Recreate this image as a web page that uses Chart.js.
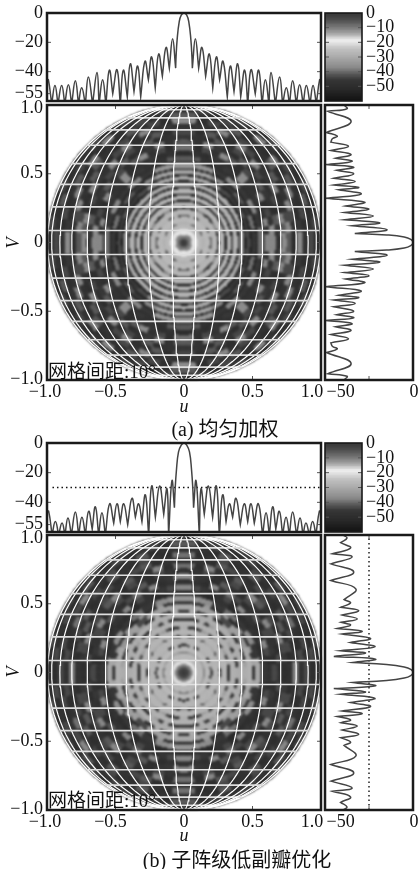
<!DOCTYPE html>
<html>
<head>
<meta charset="utf-8">
<script src="https://cdn.jsdelivr.net/npm/chart.js@4"></script>
<style>
  html, body { margin: 0; background: #fff; }
  #page { position: relative; width: 418px; height: 869px; overflow: hidden; filter: blur(0.35px); }
  #page canvas { position: absolute; left: 0; top: 0; }
  .txt { position: absolute; white-space: nowrap; color: #111; font-family: "Liberation Serif", "Noto Sans CJK SC", serif; transform: translate(-50%, -50%); }
</style>
</head>
<body>
<div id="page"></div>
<script>
// half cuts (right side of u, upper side of v), the picture is mirror symmetric
const topUA = [0,.02,.035,.05,.058,.061,.083,.107,.131,.158,.185,.21,.236,.26,.285,.316,.338,.365,.392,.414,.443,.465,.489,.52,.545,.57,.594,.62,.635,.667,.698,.72,.747,.77,.793,.82,.844,.87,.893,.92,.942,.966,.99,1];
const topDbA = [0,-1.5,-6,-18,-30,-37.6,-17.5,-37.6,-23.5,-43,-28,-51,-30,-45.5,-33,-57,-36.2,-53.5,-34.6,-57,-39,-62,-38.7,-55,-39,-62,-45.5,-62,-40.5,-62,-43.7,-62,-51,-62,-46.2,-62,-49,-62,-49.5,-62,-49.5,-62,-45.5,-46];
const topUB = [0,.02,.04,.055,.065,.07,.088,.112,.124,.148,.178,.209,.236,.258,.282,.307,.331,.355,.38,.411,.44,.465,.489,.513,.543,.574,.599,.623,.647,.67,.696,.72,.745,.769,.793,.822,.847,.869,.89,.915,.939,.963,.988,1];
const topDbB = [0,-1.5,-6,-18,-32,-43.6,-25.5,-62,-31,-48,-29,-50,-29,-62,-35,-53,-41,-50,-37.3,-55,-41,-53,-41,-54,-41,-62,-47,-62,-43,-58,-46,-62,-50,-62,-46.6,-62,-50.5,-62,-54,-62,-53,-62,-46,-47];
const sideVA = [0,.022,.04,.055,.066,.093,.122,.143,.165,.192,.219,.242,.265,.293,.321,.352,.384,.401,.418,.443,.467,.499,.525,.548,.567,.59,.613,.64,.669,.70,.73,.754,.774,.80,.88,.954,.973,1];
const sideDbA = [0,-1.5,-6,-18,-39.7,-17.7,-41.5,-22.7,-46.7,-27,-46.7,-30,-46,-33,-59.6,-35.4,-50.6,-37,-54,-39.4,-54,-40.5,-52,-40.5,-59.6,-41.6,-52.8,-42.3,-56,-44,-56,-55,-51.7,-59,-42.2,-58,-45,-47];
const sideVB = [0,.022,.04,.058,.073,.097,.117,.141,.158,.187,.219,.248,.28,.30,.32,.345,.365,.389,.418,.45,.474,.506,.53,.608,.669,.73,.79,.84,.864,.905,.944,.978,1];
const sideDbB = [0,-1.5,-6,-18,-41,-25.6,-54,-32.4,-49.4,-26,-42.6,-29,-48.3,-34.7,-51.7,-42.6,-49,-38,-48.3,-37,-49.4,-42.6,-47,-39,-56,-40.4,-56,-41.5,-55,-42.6,-49.4,-45,-48];
const sideLobeLimit = -30;

// colormap stops
const cmapDb = [-60,-52,-46,-42,-38,-30,-25,-19,-15,-10,-4,0];
const cmapGrey = [18,42,54,88,135,172,192,240,172,118,70,52];

// grid of the sine-space plot, degrees
const gridDeg = [5,15,25,35,45,55,65,75,85];

// beam pattern in polar cells: outer radius of each ring, sectors per quadrant from +u to +v
const ringsA = [.02,.035,.05,.065,.08,.10,.135,.15,.19,.205,.245,.26,.30,.315,.345,.36,.395,.41,.44,.455,.485,.5,.53,.545,.58,.595,.63,.67,.71,.75,.79,.83,.87,.91,.95,1.01];
const cellsA = [
  [-1,-1,-1,-1,-1,-1,-1,-1],
  [-5,-5,-5,-5,-5,-5,-5,-5],
  [-10,-10,-10,-10,-10,-10,-10,-10],
  [-26,-26,-38,-38,-38,-38,-26,-26],
  [-20,-20,-20,-20,-20,-20,-20,-20],
  [-18,-18,-18,-18,-18,-18,-18,-18],
  [-27,-27,-27,-27,-27,-27,-27,-27],
  [-29,-29,-42,-29,-29,-42,-29,-29],
  [-27,-27,-27,-27,-27,-27,-27,-27],
  [-42,-29,-44,-29,-29,-44,-29,-42],
  [-28,-28,-28,-28,-28,-28,-28,-28],
  [-48,-48,-38,-48,-48,-38,-48,-48],
  [-28,-28,-28,-28,-28,-28,-28,-28],
  [-54,-54,-54,-54,-54,-54,-54,-54],
  [-28,-28,-28,-28,-28,-28,-28,-28],
  [-56,-56,-56,-56,-56,-56,-56,-56],
  [-29,-29,-29,-29,-29,-29,-29,-29],
  [-56,-56,-56,-56,-56,-56,-56,-56],
  [-33,-33,-30,-30,-30,-30,-30,-30],
  [-56,-56,-56,-56,-56,-56,-56,-56],
  [-44,-46,-42,-46,-44,-36,-31,-31],
  [-54,-54,-52,-52,-54,-54,-54,-54],
  [-46,-40,-46,-42,-46,-38,-32,-32],
  [-54,-54,-54,-54,-54,-54,-54,-54],
  [-40,-46,-38,-46,-38,-46,-35,-35],
  [-46,-50,-50,-50,-50,-50,-52,-52],
  [-38,-48,-38,-48,-46,-46,-48,-48,-37,-48,-46,-48,-50,-48,-42,-42],
  [-38,-37,-48,-44,-50,-38,-48,-46,-37,-50,-48,-48,-46,-50,-48,-50],
  [-48,-46,-42,-50,-48,-46,-42,-48,-44,-50,-42,-37,-48,-44,-50,-40],
  [-37,-42,-38,-50,-44,-48,-50,-44,-48,-42,-50,-48,-46,-38,-48,-42],
  [-42,-38,-44,-48,-50,-37,-46,-48,-37,-50,-44,-48,-42,-50,-48,-46],
  [-50,-48,-44,-38,-48,-50,-42,-48,-50,-44,-38,-50,-48,-42,-50,-44],
  [-37,-46,-50,-48,-38,-48,-50,-42,-48,-50,-44,-48,-38,-50,-46,-48],
  [-48,-50,-44,-50,-48,-42,-48,-38,-50,-48,-50,-42,-48,-44,-50,-37],
  [-44,-48,-50,-42,-50,-48,-44,-50,-48,-38,-48,-50,-44,-50,-48,-42],
  [-50,-44,-48,-50,-44,-50,-48,-48,-44,-50,-48,-44,-50,-48,-44,-50],
];
const ringsB = [.02,.04,.06,.07,.09,.14,.155,.19,.21,.26,.275,.32,.34,.38,.4,.44,.46,.5,.52,.56,.6,.64,.68,.72,.76,.8,.84,.88,.92,.96,1.01];
const cellsB = [
  [-1,-1,-1,-1,-1,-1,-1,-1],
  [-4,-4,-4,-4,-4,-4,-4,-4],
  [-10,-10,-10,-10,-10,-10,-10,-10],
  [-26,-26,-26,-26,-26,-26,-26,-26],
  [-18,-18,-18,-18,-18,-18,-18,-18],
  [-27,-27,-27,-27,-27,-27,-27,-27],
  [-40,-33,-33,-33,-33,-33,-33,-40],
  [-27,-27,-27,-27,-27,-27,-27,-27],
  [-44,-29,-46,-29,-29,-46,-29,-46],
  [-28,-28,-28,-28,-28,-28,-28,-28],
  [-48,-32,-30,-30,-32,-46,-32,-30,-30,-32,-46,-30,-32,-48,-48,-34],
  [-28,-28,-28,-28,-28,-28,-28,-28],
  [-52,-50,-30,-46,-34,-32,-50,-30,-32,-50,-32,-34,-50,-52,-52,-30],
  [-29,-29,-29,-29,-29,-29,-29,-29],
  [-30,-50,-46,-30,-50,-34,-30,-52,-52,-30,-34,-48,-30,-52,-52,-48],
  [-30,-30,-30,-30,-30,-30,-30,-30],
  [-30,-33,-52,-46,-30,-50,-52,-34,-34,-52,-50,-30,-52,-50,-30,-46],
  [-29,-31,-35,-33,-44,-33,-33,-31],
  [-50,-32,-46,-34,-52,-50,-34,-52,-52,-34,-50,-52,-34,-52,-48,-52],
  [-31,-46,-37,-46,-40,-46,-37,-35],
  [-46,-50,-48,-50,-52,-48,-52,-50],
  [-48,-50,-44,-38,-48,-50,-48,-46,-38,-50,-44,-48,-50,-46,-44,-38],
  [-44,-50,-46,-48,-44,-50,-42,-48,-50,-44,-40,-48,-38,-50,-48,-48],
  [-48,-44,-50,-48,-44,-38,-50,-48,-44,-50,-48,-42,-50,-48,-46,-36],
  [-50,-46,-44,-38,-50,-44,-48,-42,-38,-50,-44,-48,-50,-44,-48,-48],
  [-48,-50,-44,-48,-42,-50,-48,-44,-50,-48,-42,-50,-48,-38,-50,-40],
  [-38,-48,-50,-44,-48,-42,-50,-48,-44,-50,-48,-44,-42,-50,-48,-48],
  [-48,-44,-50,-48,-40,-50,-48,-44,-50,-42,-48,-50,-44,-48,-50,-40],
  [-44,-50,-44,-50,-48,-44,-38,-50,-48,-44,-50,-48,-42,-50,-48,-48],
  [-50,-44,-50,-48,-44,-50,-48,-42,-50,-48,-44,-50,-48,-44,-50,-42],
  [-48,-50,-44,-50,-48,-44,-50,-48,-44,-50,-48,-44,-50,-48,-44,-48],
];

const W = 418, H = 869;
const page = document.getElementById("page");
const FONT = '18px "Liberation Serif", serif';
const LINE = "#444";

function greyFor(db) {
  let i = 0;
  while (i < cmapDb.length - 2 && db > cmapDb[i + 1]) i++;
  const t = Math.min(1, Math.max(0, (db - cmapDb[i]) / (cmapDb[i + 1] - cmapDb[i])));
  const g = Math.round(cmapGrey[i] + t * (cmapGrey[i + 1] - cmapGrey[i]));
  return `rgb(${g},${g},${g})`;
}

// frame, inner ticks and tick labels, placed with the chart's scales
function dress({ xTicks = [], yTicks = [], xLabels = [], yLabels = [], labelY, labelX, left = false, frame = 2.5 }) {
  return {
    id: "dress",
    afterDraw(chart) {
      const { ctx, chartArea: a, scales: { x, y } } = chart;
      ctx.save();
      ctx.strokeStyle = "#555";
      ctx.lineWidth = 1;
      ctx.beginPath();
      xTicks.forEach((t) => {
        const p = x.getPixelForValue(t);
        ctx.moveTo(p, a.top); ctx.lineTo(p, a.top + 4);
        ctx.moveTo(p, a.bottom); ctx.lineTo(p, a.bottom - 4);
      });
      yTicks.forEach((t) => {
        const p = y.getPixelForValue(t);
        ctx.moveTo(a.left, p); ctx.lineTo(a.left + 4, p);
        ctx.moveTo(a.right, p); ctx.lineTo(a.right - 4, p);
      });
      ctx.stroke();
      ctx.strokeStyle = "#1a1a1a";
      ctx.lineWidth = frame;
      ctx.strokeRect(a.left, a.top, a.right - a.left, a.bottom - a.top);
      ctx.fillStyle = "#111";
      ctx.font = FONT;
      ctx.textBaseline = "middle";
      ctx.textAlign = "center";
      xLabels.forEach(([v, s, dx]) => ctx.fillText(s, x.getPixelForValue(v) + dx, labelY));
      ctx.textAlign = left ? "left" : "right";
      yLabels.forEach(([v, s, dy]) => ctx.fillText(s, labelX, y.getPixelForValue(v) + dy));
      ctx.restore();
    },
  };
}

function add(box, type, data, xr, yr, plugins = []) {
  const c = document.createElement("canvas");
  c.width = W; c.height = H;
  page.appendChild(c);
  return new Chart(c, {
    type, data, plugins,
    options: {
      responsive: false, animation: false, events: [],
      layout: { padding: { left: box[0], top: box[1], right: W - box[2], bottom: H - box[3] } },
      plugins: { legend: { display: false }, tooltip: { enabled: false } },
      scales: {
        x: { type: "linear", display: false, min: xr[0], max: xr[1], ...(type === "bar" ? { type: "category", stacked: true } : {}) },
        y: { type: "linear", display: false, min: yr[0], max: yr[1] },
      },
    },
  });
}

// whole cut from the half, nulls doubled so the curve keeps a sharp cusp there
function mirrored(pos, db) {
  const all = [];
  for (let i = pos.length - 1; i > 0; i--) all.push([-pos[i], db[i]]);
  pos.forEach((p, i) => all.push([p, db[i]]));
  const out = [];
  all.forEach((p, i) => {
    out.push(p);
    if (i > 0 && i < all.length - 1 && p[1] < all[i - 1][1] && p[1] < all[i + 1][1]) out.push(p);
  });
  return out;
}

function cutLine(points) {
  return { data: points, showLine: true, pointRadius: 0, borderColor: LINE, borderWidth: 1.5, tension: 0.45 };
}
function limitLine(points) {
  return { data: points, showLine: true, pointRadius: 0, borderColor: "#111", borderWidth: 1.4, borderDash: [1.5, 3] };
}

function heatCells(rings, cells) {
  const pts = [], colors = [];
  const step = 0.0102;
  for (let v = -1 + step / 2; v < 1; v += step) {
    for (let u = -1 + step / 2; u < 1; u += step) {
      const r = Math.hypot(u, v);
      if (r > 1) continue;
      const row = cells[rings.findIndex((o) => r <= o)];
      const col = Math.min(row.length - 1, Math.floor(Math.atan2(Math.abs(v), Math.abs(u)) / (Math.PI / 2) * row.length));
      pts.push({ x: u, y: v });
      colors.push(greyFor(row[col]));
    }
  }
  return { pts, colors };
}

function gridLines() {
  const sets = [];
  const rad = (d) => d * Math.PI / 180;
  gridDeg.forEach((d) => {
    [1, -1].forEach((s) => {
      const v = s * Math.sin(rad(d)), c = Math.cos(rad(d));
      sets.push({ data: [{ x: -c, y: v }, { x: c, y: v }], showLine: true, pointRadius: 0, borderColor: "#dedede", borderWidth: 1.6 });
      const m = [];
      for (let lat = -90; lat <= 90; lat += 3) m.push({ x: s * Math.sin(rad(d)) * Math.cos(rad(lat)), y: Math.sin(rad(lat)) });
      sets.push({ data: m, showLine: true, pointRadius: 0, borderColor: "#fff", borderWidth: 1.2 });
    });
  });
  return sets;
}

function panel(o) {
  const { topY, mainY, rings, cells, topCut, sideCut, limit } = o;
  // top cut
  const topSets = [cutLine(mirrored(topCut[0], topCut[1]).map(([x, y]) => ({ x, y })))];
  if (limit) topSets.push(limitLine([{ x: -.96, y: sideLobeLimit }, { x: 1, y: sideLobeLimit }]));
  add([47, topY[0], 321, topY[1]], "scatter", { datasets: topSets }, [-1, 1], [-60, 0], [dress({
    yTicks: [-20, -40, -55], labelX: 43,
    yLabels: [[0, "0", 0], [-20, "−20", 0], [-40, "−40", 0], [-55, "−55", 0]],
  })]);

  // colorbar
  const levels = [];
  for (let d = -60; d < 0; d++) levels.push(d);
  add([325, topY[0], 362, topY[1]], "bar", {
    labels: ["dB"],
    datasets: levels.map((d) => ({ data: [[d, d + 1.2]], backgroundColor: greyFor(d + .5), barPercentage: 1, categoryPercentage: 1, borderWidth: 0 })),
  }, [undefined, undefined], [-60, 0], [dress({
    frame: 1.6, yTicks: [-10, -20, -30, -40, -50], labelX: 366, left: true,
    yLabels: [[0, "0", 0], [-10, "−10", 0], [-20, "−20", 0], [-30, "−30", 0], [-40, "−40", 0], [-50, "−50", 0]],
  })]);

  // heatmap on its own softened layer
  const box = [47, mainY[0], 321, mainY[1]];
  const heat = heatCells(rings, cells);
  add(box, "scatter", { datasets: [{
    data: heat.pts, pointStyle: "rect", pointRadius: 1.4, pointBorderWidth: 0,
    pointBackgroundColor: heat.colors,
  }] }, [-1, 1], [-1, 1]);
  page.lastChild.style.filter = "blur(0.8px)";

  // grid and axes
  add(box, "scatter", { datasets: gridLines() }, [-1, 1], [-1, 1], [dress({
    xTicks: [-.5, 0, .5], yTicks: [-.5, 0, .5], labelY: mainY[1] + 12, labelX: 43,
    xLabels: [[-1, "−1.0", -2], [-.5, "−0.5", -5], [0, "0", 0], [.5, "0.5", 0], [1, "1.0", -9]],
    yLabels: [[1, "1.0", 3], [.5, "0.5", 0], [0, "0", 0], [-.5, "−0.5", 0], [-1, "−1.0", -1]],
  })]);

  // side cut
  const sideSets = [cutLine(mirrored(sideCut[0], sideCut[1]).map(([y, x]) => ({ x, y })))];
  if (limit) sideSets.push(limitLine([{ x: sideLobeLimit, y: -1 }, { x: sideLobeLimit, y: 1 }]));
  add([325, mainY[0], 413, mainY[1]], "scatter", { datasets: sideSets }, [-60, 0], [-1, 1], [dress({
    xTicks: [-30], labelY: mainY[1] + 12,
    xLabels: [[-50, "−50", 1], [0, "0", 1]],
  })]);
}

function text(s, x, y, size, extra = "") {
  const d = document.createElement("div");
  d.className = "txt";
  d.textContent = s;
  d.style.cssText = `left:${x}px;top:${y}px;font-size:${size}px;${extra}`;
  page.appendChild(d);
}

panel({ topY: [13, 101], mainY: [105, 380], rings: ringsA, cells: cellsA, topCut: [topUA, topDbA], sideCut: [sideVA, sideDbA], limit: false });
panel({ topY: [443, 532], mainY: [535, 810], rings: ringsB, cells: cellsB, topCut: [topUB, topDbB], sideCut: [sideVB, sideDbB], limit: true });

text("网格间距:10°", 102, 369, 19);
text("网格间距:10°", 102, 798, 19);
text("u", 184, 406, 18, "font-style:italic;");
text("u", 184, 835, 18, "font-style:italic;");
text("V", 13, 243, 18, "font-style:italic;transform:translate(-50%,-50%) rotate(-90deg);");
text("V", 13, 672, 18, "font-style:italic;transform:translate(-50%,-50%) rotate(-90deg);");
text("(a) 均匀加权", 225, 427, 20);
text("(b) 子阵级低副瓣优化", 237, 858, 20);
</script>
</body>
</html>
